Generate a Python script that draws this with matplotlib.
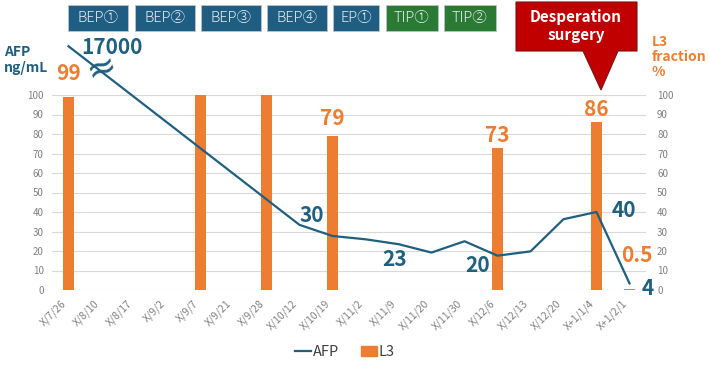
import numpy as np
import matplotlib.pyplot as plt
from matplotlib.patches import Rectangle, Polygon
from matplotlib.lines import Line2D
from matplotlib.patches import Patch

plt.rcParams['font.family'] = ['Noto Sans CJK JP', 'DejaVu Sans']

# data
dates = ["X/7/26", "X/8/10", "X/8/17", "X/9/2", "X/9/7", "X/9/21", "X/9/28",
         "X/10/12", "X/10/19", "X/11/2", "X/11/9", "X/11/20", "X/11/30",
         "X/12/6", "X/12/13", "X/12/20", "X+1/1/4", "X+1/2/1"]
l3 = [99, None, None, None, 100, None, 100, None, 79, None, None, None, None,
      73, None, None, 86, 0.5]
afp = [17000, None, None, None, None, None, None, 33.4, 27.7, 26, 23.5, 19.2, 25,
       17.6, 19.8, 36.3, 40, 3.4]
AFP_CAP = 125  # axis break: 17000 drawn off the top

regimens = ["BEP①", "BEP②", "BEP③", "BEP④", "EP①", "TIP①", "TIP②"]
regimen_colors = ["#1F5E82"] * 5 + ["#2B7A34"] * 2

# label text and offsets (pt)
l3_labels = {0: ("99", 0, 9), 8: ("79", 0, 5), 13: ("73", 0, 1), 16: ("86", 0, 2), 17: ("0.5", 5, 24)}
afp_labels = {0: ("17000", 9, -1), 7: ("30", 9, 7), 10: ("23", -3, -11),
              13: ("20", -14, -7), 16: ("40", 20, 1), 17: ("4", 13, -4)}

BLUE = "#1F5F80"
ORANGE = "#ED7D31"
GRAY = "#808080"

fig = plt.figure(figsize=(7.09, 3.66), dpi=100)
W, H = 709, 366
ax = fig.add_axes([52 / W, 76 / H, 594 / W, 250 / H])
x = np.arange(len(dates))

ax.set_xlim(-0.5, len(dates) - 0.5)
ax.set_ylim(0, 250 / 1.95)
ax.set_yticks(np.arange(0, 101, 10))
for v in range(0, 101, 10):
    ax.axhline(v, color="#D9D9D9", lw=0.8, zorder=0)
for s in ax.spines.values():
    s.set_visible(False)
ax.tick_params(length=0, labelsize=7, labelcolor=GRAY, pad=6)
ax.set_xticks(x)
ax.set_xticklabels(dates, rotation=45, ha="right", va="top", fontsize=7.5, color=GRAY)

ax2 = ax.twinx()
ax2.set_ylim(ax.get_ylim())
ax2.set_yticks(np.arange(0, 101, 10))
for s in ax2.spines.values():
    s.set_visible(False)
ax2.tick_params(length=0, labelsize=7, labelcolor=GRAY, pad=8)

# bars
bx = [i for i, v in enumerate(l3) if v is not None]
bv = [l3[i] for i in bx]
ax.bar(bx, bv, width=0.33, color=ORANGE, zorder=2)

# line
lx = [i for i, v in enumerate(afp) if v is not None]
lv = [min(afp[i], AFP_CAP) for i in lx]
ax.plot(lx, lv, color=BLUE, lw=1.6, zorder=3, clip_on=False)

for i, (t, dx, dy) in l3_labels.items():
    ax.annotate(t, (i, l3[i]), xytext=(dx, dy), textcoords="offset points",
                ha="center", va="center" if i == 17 else "bottom",
                fontsize=15, color=ORANGE, fontweight="bold")
for i, (t, dx, dy) in afp_labels.items():
    ax.annotate(t, (i, min(afp[i], AFP_CAP)), xytext=(dx, dy), textcoords="offset points",
                ha="left" if i == 0 else "center", va="center",
                fontsize=15, color=BLUE, fontweight="bold")

# break mark
fig.text(102 / W, 1 - 69 / H, "≈", fontsize=26, color=BLUE, ha="center", va="center",
         rotation=20, family="DejaVu Sans")

# axis titles
fig.text(4 / W, 1 - 60 / H, "AFP\nng/mL", fontsize=10, color=BLUE, fontweight="bold",
         ha="left", va="center", linespacing=1.1)
fig.text(652 / W, 1 - 57 / H, "L3\nfraction\n%", fontsize=10, color=ORANGE, fontweight="bold",
         ha="left", va="center", linespacing=1.05)

# regimen boxes
box_x = [68, 135, 201, 267, 333, 386, 444]
box_w = [60, 60, 60, 60, 46, 52, 52]
for name, bx0, bw, c in zip(regimens, box_x, box_w, regimen_colors):
    fig.patches.append(Rectangle((bx0 / W, 1 - 31 / H), bw / W, 26 / H, transform=fig.transFigure,
                                 facecolor=c, edgecolor="#B8C4CC", lw=0.6))
    fig.text((bx0 + bw / 2) / W, 1 - 18 / H, name, fontsize=10.5, color="#E6EEF4",
             ha="center", va="center", fontweight="light")

# callout
pts = [(516, 2), (637, 2), (637, 51), (618, 51), (601, 90), (583, 51), (516, 51)]
fig.patches.append(Polygon([(px / W, 1 - py / H) for px, py in pts], closed=True,
                           transform=fig.transFigure, facecolor="#C00000", edgecolor="#7F1010", lw=0.8))
fig.text(576 / W, 1 - 26 / H, "Desperation\nsurgery", fontsize=11, color="white",
         fontweight="bold", ha="center", va="center", linespacing=1.2)

# legend
handles = [Line2D([0], [0], color=BLUE, lw=1.6), Patch(color=ORANGE)]
fig.legend(handles, ["AFP", "L3"], loc="center", bbox_to_anchor=(345 / W, 1 - 352 / H),
           ncol=2, frameon=False, fontsize=10.5, handlelength=1.1, handletextpad=0.1,
           columnspacing=1.5, labelcolor="#404040")

fig.savefig("out.png", dpi=100)
